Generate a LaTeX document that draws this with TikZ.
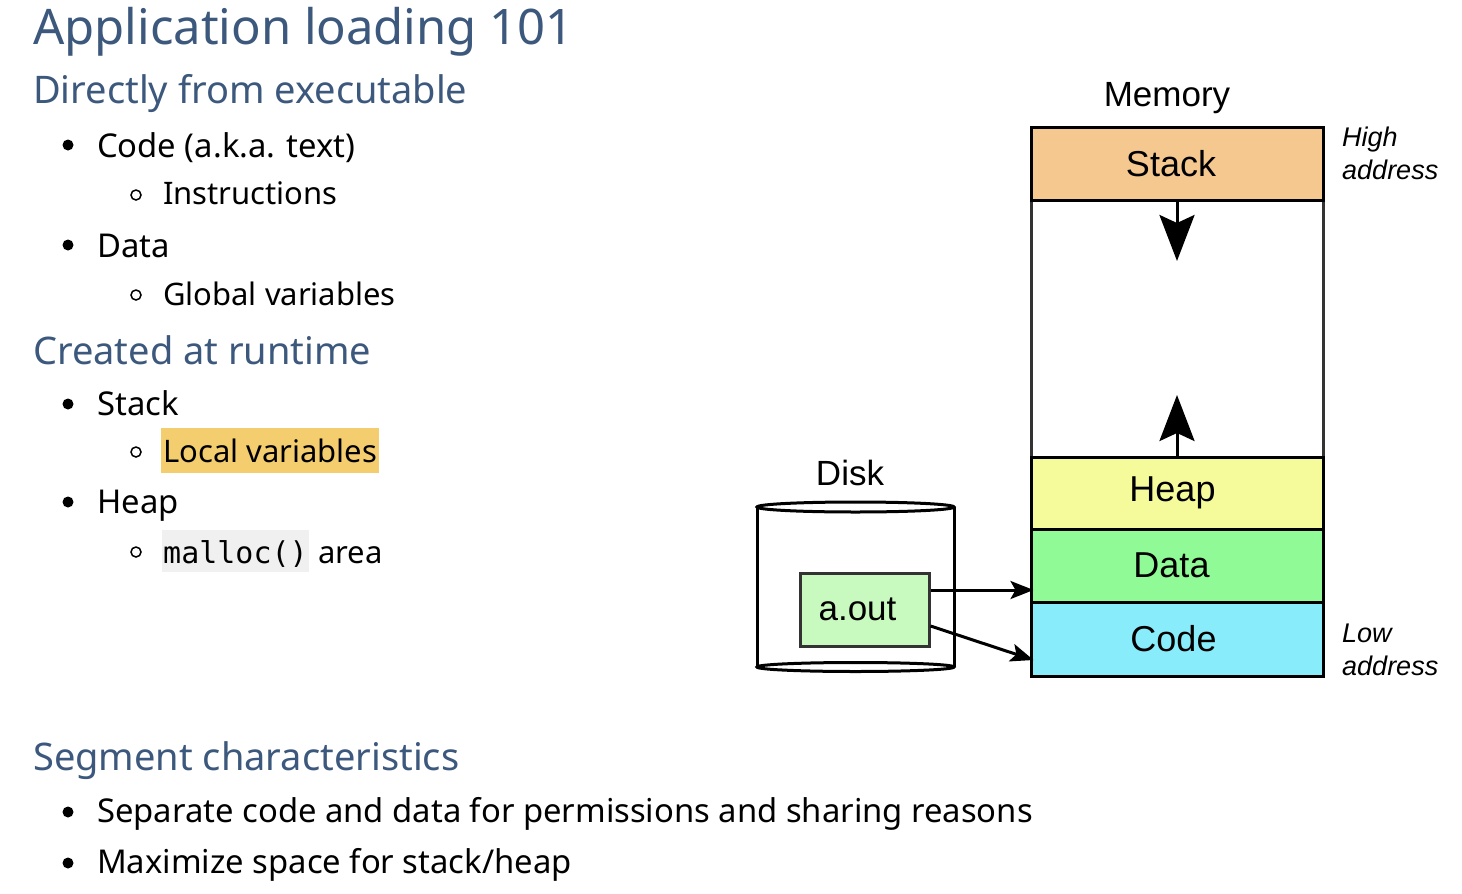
\documentclass[tikz,border=0pt]{standalone}
\usepackage{fontspec}
\setmainfont{Noto Sans}
\setmonofont{DejaVu Sans Mono}
\newfontfamily\arialfont{Liberation Sans}
\usetikzlibrary{arrows.meta}
\definecolor{headblue}{HTML}{3C587D}
\definecolor{stackc}{HTML}{F5C890}
\definecolor{heapc}{HTML}{F5FA9A}
\definecolor{datac}{HTML}{90FA96}
\definecolor{codec}{HTML}{88ECFA}
\definecolor{aoutc}{HTML}{C8FAC0}
\definecolor{hlc}{HTML}{F3CD6E}
\definecolor{monobg}{HTML}{F0F0F0}
\definecolor{darkgray3}{HTML}{333333}
\begin{document}
\begin{tikzpicture}[x=1pt,y=-1pt,
  titletext/.style={anchor=base west, inner sep=0pt, text=headblue, font=\fontsize{49}{60}\selectfont},
  heading/.style={anchor=base west, inner sep=0pt, text=headblue, font=\fontsize{38}{44}\selectfont},
  item/.style={anchor=base west, inner sep=0pt, font=\fontsize{32.8}{38}\selectfont},
  subitem/.style={anchor=base west, inner sep=0pt, font=\fontsize{31}{37}\selectfont},
  dotbullet/.style={circle, fill=black, inner sep=0pt, minimum size=11pt},
  ringbullet/.style={circle, draw=black, line width=1.5pt, inner sep=0pt, minimum size=10pt},
  seg/.style={draw=black, line width=3pt, minimum width=292pt, inner sep=0pt, font=\arialfont\fontsize{36}{40}\selectfont},
  difont/.style={font=\arialfont\fontsize{35}{40}\selectfont},
  addr/.style={anchor=base west, inner sep=0pt, font=\arialfont\itshape\fontsize{27}{30}\selectfont},
  bigarrow/.style={line width=3pt, -{Stealth[length=46pt, width=35pt, inset=8pt]}},
  smallarrow/.style={line width=3pt, -{Stealth[length=23pt, width=18pt, inset=5pt]}}
]
\useasboundingbox (0,0) rectangle (1462,894);
\fill[white] (0,0) rectangle (1462,894);

% left text
\node[titletext] (title) at (33,44) {Application loading 101};
\node[heading] (h1) at (33,103) {Directly from executable};
\node[dotbullet] (b1) at (68,145) {};
\node[item] (t1) at (97,157) {Code (a.k.a. text)};
\node[ringbullet] (b2) at (136,195) {};
\node[subitem] (t2) at (163,204) {Instructions};
\node[dotbullet] (b3) at (68,245) {};
\node[item] (t3) at (97,257) {Data};
\node[ringbullet] (b4) at (136,295) {};
\node[subitem] (t4) at (163,305) {Global variables};
\node[heading] (h2) at (33,364) {Created at runtime};
\node[dotbullet] (b5) at (68,404) {};
\node[item] (t5) at (97,415) {Stack};
\node[ringbullet] (b6) at (136,452) {};
\node[subitem, fill=hlc, inner xsep=2pt, text height=34pt, text depth=11pt] (t6) at (161,462) {Local variables};
\node[dotbullet] (b7) at (68,502) {};
\node[item] (t7) at (97,513) {Heap};
\node[ringbullet] (b8) at (136,552) {};
\node[subitem, fill=monobg, inner xsep=1pt, text height=33pt, text depth=9pt, font=\ttfamily\fontsize{30}{36}\selectfont] (t8) at (162,563) {malloc()};
\node[subitem] (t9) at ([xshift=9pt]t8.base east) {area};
\node[heading] (h3) at (33,770) {Segment characteristics};
\node[dotbullet] (b9) at (68,812) {};
\node[item] (t10) at (97,822) {Separate code and data for permissions and sharing reasons};
\node[dotbullet] (b10) at (68,863) {};
\node[item] (t11) at (97,873) {Maximize space for stack/heap};

% memory
\node[difont, anchor=base] (memlbl) at (1167,106) {Memory};
\node[draw=darkgray3, line width=3pt, minimum width=292pt, minimum height=257pt, inner sep=0pt] (free) at (1177,328.5) {};
\node[seg, fill=stackc, minimum height=73pt] (stack) at (1177,163.5) {Stack\hspace*{12pt}};
\node[seg, fill=heapc, minimum height=72pt] (heap) at (1177,493) {Heap\hspace*{9pt}};
\node[seg, fill=datac, minimum height=73pt] (data) at (1177,565.5) {Data\hspace*{11pt}};
\node[seg, fill=codec, minimum height=74pt] (code) at (1177,639) {Code\hspace*{7pt}};
\coordinate (downtip) at (1177,261);
\coordinate (uptip) at (1177,395);
\draw[bigarrow] (stack.south) -- (downtip);
\draw[bigarrow] (heap.north) -- (uptip);
\node[addr] (hi1) at (1342,146) {High};
\node[addr] (hi2) at (1342,179) {address};
\node[addr] (lo1) at (1342,642) {Low};
\node[addr] (lo2) at (1342,675) {address};

% disk
\node[difont, anchor=base] (disklbl) at (850,485) {Disk};
\fill[white] (757,507) rectangle (954,667);
\draw[line width=3pt] (757,507) -- (757,667);
\draw[line width=3pt] (954,507) -- (954,667);
\draw[line width=3pt, fill=white] (855.5,507) ellipse [x radius=98.5pt, y radius=5pt];
\draw[line width=3pt] (855.5,667) ellipse [x radius=98.5pt, y radius=4.5pt];
\node[draw=darkgray3, line width=3pt, fill=aoutc, minimum width=129pt, minimum height=73pt, inner sep=0pt, difont] (aout) at (864.5,609.5) {a.out\hspace*{14pt}};
\draw[smallarrow] ([yshift=19.5pt]aout.east) -- ([xshift=4pt, yshift=-24.5pt]data.west);
\draw[smallarrow] ([yshift=-16.5pt]aout.east) -- ([xshift=4pt, yshift=-21pt]code.west);
\end{tikzpicture}
\end{document}
